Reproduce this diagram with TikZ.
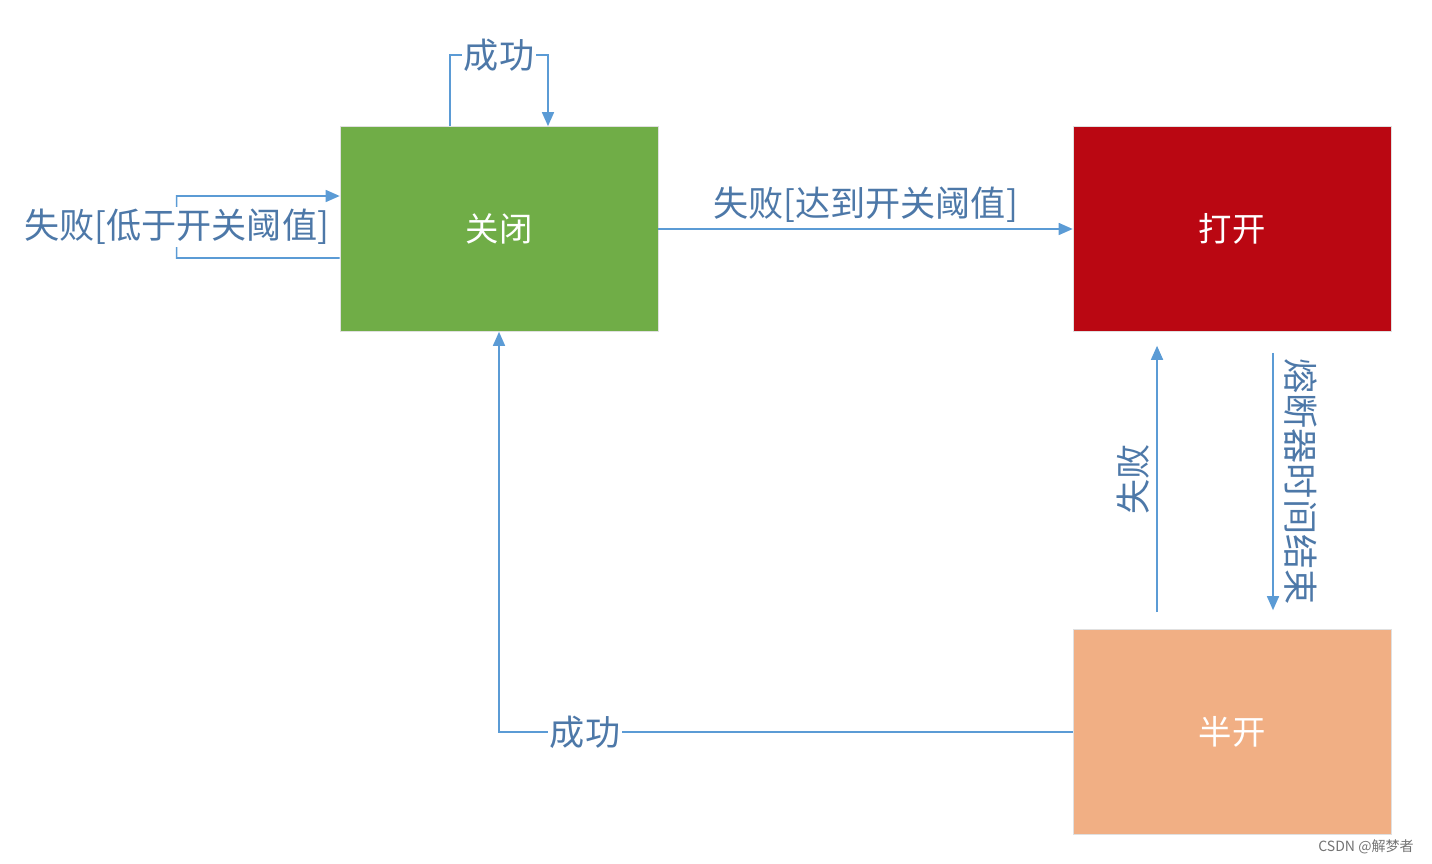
\documentclass[tikz,border=0pt]{standalone}
\usepackage{fontspec}
\setmainfont{Noto Sans CJK SC}
\usepackage{xcolor}
\usetikzlibrary{arrows.meta,positioning,calc}
\definecolor{linkblue}{HTML}{5B9BD5}
\definecolor{textblue}{HTML}{4D78A8}
\definecolor{closedgreen}{HTML}{70AD47}
\definecolor{openred}{HTML}{BA0712}
\definecolor{halforange}{HTML}{F1AF84}
\tikzset{state/.style={draw=black!12,minimum width=6.36cm,minimum height=4.1cm,text=white,font=\fontsize{19}{22}\selectfont},
  arr/.style={-{Triangle[length=0.28cm,width=0.24cm]},line width=0.9pt,draw=linkblue},
  lbl/.style={text=textblue,fill=white,inner sep=1pt,font=\fontsize{20}{23}\selectfont}}

\begin{document}
\begin{tikzpicture}[x=0.02cm,y=-0.02cm]
\useasboundingbox (0,0) rectangle (1432,864);
\node[state,fill=closedgreen] (close) at (499,229) {关闭};
\node[state,fill=openred] (open) at (1232,229) {打开};
\node[state,fill=halforange] (half) at (1232,732) {半开};
\draw[arr] ([xshift=-0.98cm]close.north) |- node[lbl,pos=0.75]{成功} ([xshift=0.98cm,yshift=1.42cm]close.north) -- ([xshift=0.98cm]close.north);
\draw[arr] ([yshift=-0.58cm]close.west) -- ++(-163,0) -- node[lbl]{失败[低于开关阈值]} ++(0,-62) -- ([yshift=0.66cm]close.west);
\draw[arr] (close) -- node[lbl,above=2pt]{失败[达到开关阈值]} (open);
\draw[arr] ([xshift=-1.5cm,yshift=0.34cm]half.north) -- node[lbl,above=3pt,sloped]{失败} ([xshift=-1.5cm,yshift=-0.28cm]open.south);
\draw[arr] ([xshift=0.82cm,yshift=-0.42cm]open.south) -- node[lbl,above=5pt,sloped]{熔断器时间结束} ([xshift=0.82cm,yshift=0.38cm]half.north);
\draw[arr] (half.west) -| node[lbl,pos=0.425]{成功} (close.south);
\node[text=black!55,font=\fontsize{8}{9}\selectfont] (mark) at (1366,847) {CSDN @解梦者};
\end{tikzpicture}
\end{document}
